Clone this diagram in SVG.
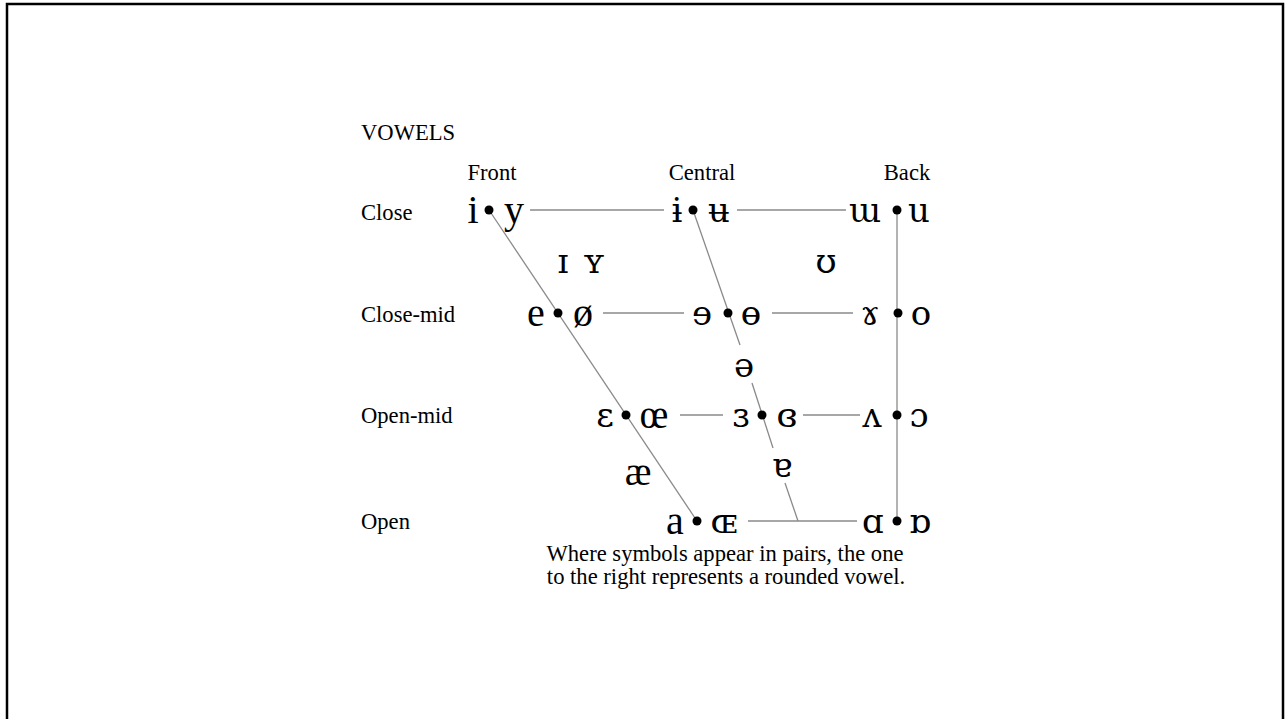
<svg xmlns="http://www.w3.org/2000/svg" width="1286" height="719" viewBox="0 0 1286 719">
<style>
.lbl{font-family:"Liberation Serif","Times New Roman",serif;font-size:22.6px;fill:#000}
.sym{font-family:"Liberation Serif","DejaVu Serif",serif;font-size:40px;fill:#000;text-anchor:middle}
.ipa{font-family:"DejaVu Serif","Liberation Serif",serif;font-size:34px;fill:#000;text-anchor:middle}
.ln{stroke:#8a8a8a;stroke-width:1.3;fill:none}
.dot{fill:#000}
</style>
<rect x="0" y="0" width="1286" height="719" fill="#fff"/>
<rect x="7" y="4" width="1276" height="760" fill="none" stroke="#000" stroke-width="2.5"/>
<g id="labels">
<text class="lbl" x="361" y="140">VOWELS</text>
<text class="lbl" x="492" y="180" text-anchor="middle">Front</text>
<text class="lbl" x="702" y="180" text-anchor="middle">Central</text>
<text class="lbl" x="907" y="180" text-anchor="middle">Back</text>
<text class="lbl" x="361" y="220">Close</text>
<text class="lbl" x="361" y="322">Close-mid</text>
<text class="lbl" x="361" y="423">Open-mid</text>
<text class="lbl" x="361" y="529">Open</text>
<text class="lbl" x="725" y="561" text-anchor="middle">Where symbols appear in pairs, the one</text>
<text class="lbl" x="726" y="584" text-anchor="middle">to the right represents a rounded vowel.</text>
</g>
<g id="connectors">
<line class="ln" x1="489" y1="210" x2="697" y2="521"/>
<line class="ln" x1="693" y1="210" x2="740" y2="345"/>
<line class="ln" x1="752" y1="383" x2="773" y2="448"/>
<line class="ln" x1="785" y1="483" x2="798" y2="521"/>
<line class="ln" x1="897" y1="210" x2="897" y2="521"/>
<line class="ln" x1="530" y1="210" x2="664" y2="210"/>
<line class="ln" x1="737" y1="210" x2="846" y2="210"/>
<line class="ln" x1="603" y1="313" x2="684" y2="313"/>
<line class="ln" x1="772" y1="313" x2="853" y2="313"/>
<line class="ln" x1="680" y1="415" x2="723" y2="415"/>
<line class="ln" x1="803" y1="415" x2="860" y2="415"/>
<line class="ln" x1="748" y1="521" x2="857" y2="521"/>
</g>
<g id="close-front"><text class="sym" x="473" y="223">i</text><circle class="dot" cx="489" cy="210" r="4.5"/><text class="sym" x="514" y="223">y</text></g>
<g id="close-central"><text class="ipa" x="677" y="222">ɨ</text><circle class="dot" cx="693" cy="210" r="4.5"/><text class="ipa" x="719" y="222">ʉ</text></g>
<g id="close-back"><text class="ipa" x="865" y="222">ɯ</text><circle class="dot" cx="897" cy="210" r="4.5"/><text class="ipa" x="919" y="222">u</text></g>
<g id="near-close"><text class="ipa" x="563" y="273">ɪ</text><text class="ipa" x="594" y="273">ʏ</text><text class="ipa" x="826" y="273">ʊ</text></g>
<g id="closemid-front"><text class="sym" x="536" y="326">e</text><circle class="dot" cx="558" cy="313" r="4.5"/><text class="sym" x="583" y="326">ø</text></g>
<g id="closemid-central"><text class="ipa" x="702" y="325">ɘ</text><circle class="dot" cx="728" cy="313" r="4.5"/><text class="ipa" x="751" y="325">ɵ</text></g>
<g id="closemid-back"><text class="ipa" x="870" y="325">ɤ</text><circle class="dot" cx="898" cy="313" r="4.5"/><text class="ipa" x="921" y="325">o</text></g>
<g id="mid-central"><text class="ipa" x="744" y="377">ə</text></g>
<g id="openmid-front"><text class="ipa" x="605" y="427">ɛ</text><circle class="dot" cx="626" cy="415" r="4.5"/><text class="sym" x="654" y="428">œ</text></g>
<g id="openmid-central"><text class="ipa" x="741" y="427">ɜ</text><circle class="dot" cx="762" cy="415" r="4.5"/><text class="ipa" x="787" y="427">ɞ</text></g>
<g id="openmid-back"><text class="ipa" x="872" y="427">ʌ</text><circle class="dot" cx="897" cy="415" r="4.5"/><text class="ipa" x="919" y="427">ɔ</text></g>
<g id="near-open"><text class="sym" x="638" y="485">æ</text><text class="ipa" x="782" y="477">ɐ</text></g>
<g id="open-front"><text class="sym" x="675" y="534">a</text><circle class="dot" cx="697" cy="521" r="4.5"/><text class="ipa" x="724" y="533">ɶ</text></g>
<g id="open-back"><text class="ipa" x="873" y="533">ɑ</text><circle class="dot" cx="897" cy="521" r="4.5"/><text class="ipa" x="920" y="533">ɒ</text></g>
</svg>
